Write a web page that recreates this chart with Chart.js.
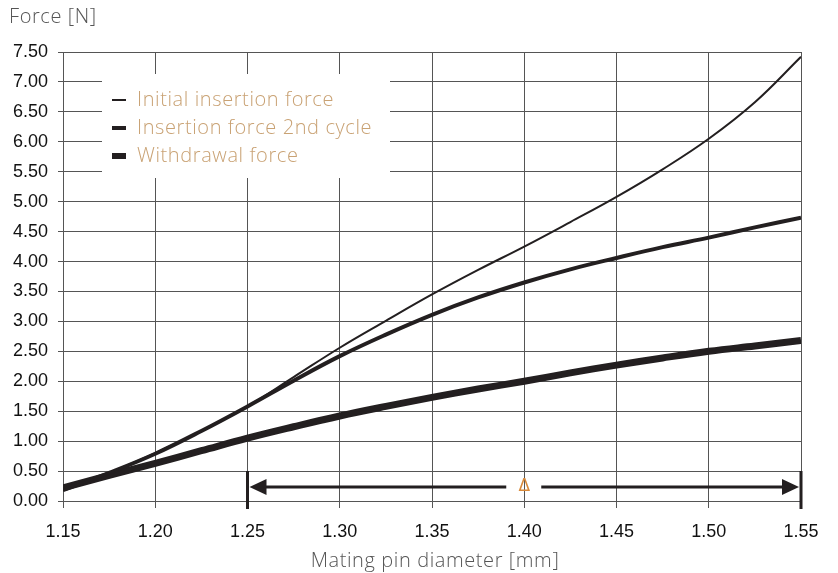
<!DOCTYPE html>
<html>
<head>
<meta charset="utf-8">
<script src="https://cdn.jsdelivr.net/npm/chart.js@4.4.0/dist/chart.umd.min.js"></script>
<style>
  html, body { margin: 0; padding: 0; background: #fff; }
  #wrap { width: 838px; height: 573px; position: relative; }
</style>
</head>
<body>
<div id="wrap"><canvas id="forceChart"></canvas></div>
<script>
// valores (passo de 0.025 mm)
const diameters = [1.15, 1.175, 1.20, 1.225, 1.25, 1.275, 1.30, 1.325, 1.35, 1.375, 1.40, 1.425, 1.45, 1.475, 1.50, 1.525, 1.55];
const initialInsertion = [0.18, 0.47, 0.80, 1.17, 1.58, 2.07, 2.56, 3.01, 3.45, 3.86, 4.25, 4.66, 5.08, 5.54, 6.05, 6.66, 7.42];
const insertion2nd = [0.18, 0.47, 0.79, 1.17, 1.58, 2.01, 2.42, 2.78, 3.11, 3.40, 3.65, 3.87, 4.06, 4.24, 4.40, 4.57, 4.73];
const withdrawal = [0.22, 0.43, 0.63, 0.84, 1.05, 1.24, 1.42, 1.58, 1.73, 1.87, 2.00, 2.14, 2.27, 2.39, 2.50, 2.59, 2.68];
const seriesNames = ['Initial insertion force', 'Insertion force 2nd cycle', 'Withdrawal force'];
const yTicks = [0, 0.5, 1, 1.5, 2, 2.5, 3, 3.5, 4, 4.5, 5, 5.5, 6, 6.5, 7, 7.5];
const xTicks = [1.15, 1.20, 1.25, 1.30, 1.35, 1.40, 1.45, 1.50, 1.55];
const deltaRange = [1.25, 1.55];

const ink = '#231f20';
const gridColor = '#555555';
const tan = '#c9a274';
const lightFont = '"Open Sans"';

function toPoints(vals) {
    return diameters.map((d, i) => ({ x: d, y: vals[i] }));
}

// legenda + seta delta + títulos dos eixos
const decorations = {
    id: 'decorations',
    beforeDatasetsDraw(chart) {
        const ctx = chart.ctx;
        ctx.save();
        ctx.fillStyle = '#fff';
        ctx.fillRect(102, 74, 288, 104);
        const widths = [2, 4, 6];
        const rows = [100, 128, 156];
        ctx.font = '300 20px ' + lightFont;
        ctx.letterSpacing = '0.6px';
        ctx.textBaseline = 'middle';
        rows.forEach((y, i) => {
            ctx.fillStyle = ink;
            ctx.fillRect(112, y - widths[i] / 2, 14, widths[i]);
            ctx.fillStyle = tan;
            ctx.fillText(seriesNames[i], 137, y);
        });
        ctx.restore();
    },
    afterDatasetsDraw(chart) {
        const ctx = chart.ctx;
        const xs = chart.scales.x;
        const x0 = xs.getPixelForValue(deltaRange[0]);
        const x1 = xs.getPixelForValue(deltaRange[1]);
        const mid = (x0 + x1) / 2;
        const y = 487;
        ctx.save();
        ctx.fillStyle = ink;
        ctx.strokeStyle = ink;
        ctx.lineWidth = 3;
        // barras verticais
        ctx.fillRect(x0 - 1.5, 471, 3, 38);
        ctx.fillRect(x1 - 1.5, 471, 3, 38);
        // linha
        ctx.beginPath();
        ctx.moveTo(x0 + 12, y); ctx.lineTo(mid - 18, y);
        ctx.moveTo(mid + 17, y); ctx.lineTo(x1 - 12, y);
        ctx.stroke();
        // pontas
        ctx.beginPath();
        ctx.moveTo(x0 + 2, y); ctx.lineTo(x0 + 19, y - 8); ctx.lineTo(x0 + 19, y + 8); ctx.closePath();
        ctx.moveTo(x1 - 2, y); ctx.lineTo(x1 - 19, y - 8); ctx.lineTo(x1 - 19, y + 8); ctx.closePath();
        ctx.fill();
        ctx.fillStyle = '#d98a3a';
        ctx.font = '17px "DejaVu Sans"';
        ctx.textAlign = 'center';
        ctx.textBaseline = 'middle';
        ctx.fillText('\u0394', mid, y);
        // títulos
        ctx.fillStyle = '#555';
        ctx.font = '300 20px ' + lightFont;
        ctx.letterSpacing = '0.6px';
        ctx.textAlign = 'left';
        ctx.fillText('Force [N]', 9, 17);
        ctx.textAlign = 'center';
        ctx.fillText('Mating pin diameter [mm]', 435, 561);
        ctx.restore();
    }
};

const lineWidths = [2, 4, 7];
const allData = [initialInsertion, insertion2nd, withdrawal];

new Chart(document.getElementById('forceChart').getContext('2d'), {
    type: 'line',
    data: {
        datasets: allData.map((vals, i) => ({
            label: seriesNames[i],
            data: toPoints(vals),
            borderColor: ink,
            borderWidth: lineWidths[i],
            pointRadius: 0,
            tension: 0.4,
            fill: false
        }))
    },
    options: {
        responsive: true,
        maintainAspectRatio: false,
        animation: false,
        layout: { padding: { top: 52, right: 37, left: 0, bottom: 0 } },
        plugins: {
            legend: { display: false },
            tooltip: { enabled: false },
            title: { display: false }
        },
        scales: {
            x: {
                type: 'linear',
                min: 1.15,
                max: 1.55,
                afterBuildTicks: (scale) => { scale.ticks = xTicks.map(v => ({ value: v })); },
                afterFit: (scale) => { scale.height = 72; },
                grid: { color: gridColor, lineWidth: 1, tickLength: 7, tickColor: gridColor },
                border: { color: gridColor, width: 1 },
                ticks: {
                    color: '#111',
                    font: { family: 'Liberation Sans', size: 18 },
                    padding: 13,
                    maxRotation: 0,
                    callback: (v) => v.toFixed(2)
                }
            },
            y: {
                min: 0,
                max: 7.5,
                afterBuildTicks: (scale) => { scale.ticks = yTicks.map(v => ({ value: v })); },
                afterFit: (scale) => { scale.width = 63; },
                grid: { color: gridColor, lineWidth: 1, tickLength: 5, tickColor: gridColor },
                border: { color: gridColor, width: 1 },
                ticks: {
                    color: '#111',
                    font: { family: 'Liberation Sans', size: 18 },
                    padding: 10,
                    callback: (v) => v.toFixed(2)
                }
            }
        }
    },
    plugins: [decorations]
});
</script>
</body>
</html>
